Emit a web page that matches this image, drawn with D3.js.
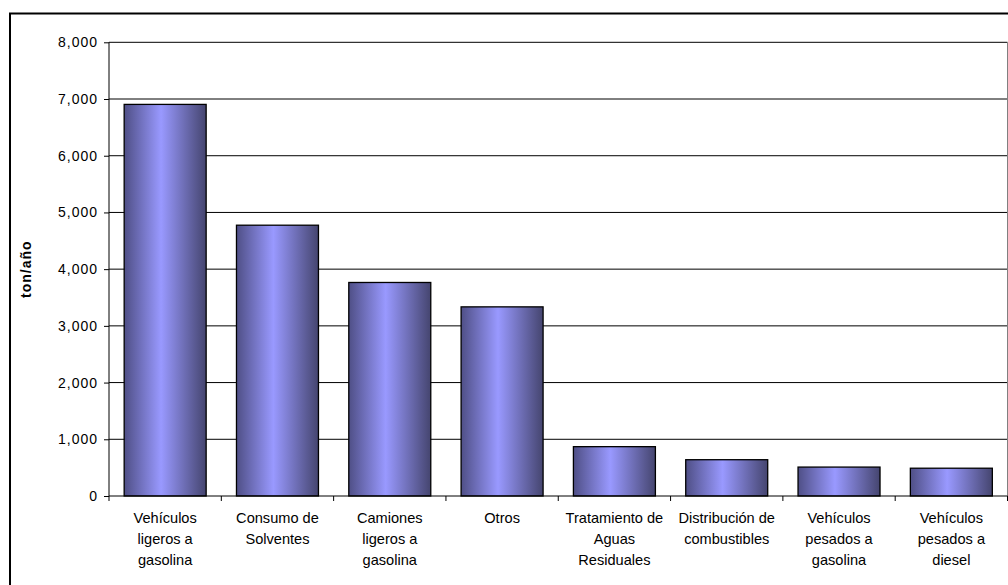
<!DOCTYPE html>
<html><head><meta charset="utf-8">
<script src="https://cdn.jsdelivr.net/npm/d3@7"></script>
<style>
body{margin:0;background:#fff;}
svg{display:block;font-family:"Liberation Sans",Arial,sans-serif;}
</style></head>
<body><svg id="c" width="1008" height="585"></svg>
<script>
const categories = [
  "Vehículos\nligeros a\ngasolina",
  "Consumo de\nSolventes",
  "Camiones\nligeros a\ngasolina",
  "Otros",
  "Tratamiento de\nAguas\nResiduales",
  "Distribución de\ncombustibles",
  "Vehículos\npesados a\ngasolina",
  "Vehículos\npesados a\ndiesel"
];
const values = [6905, 4775, 3765, 3335, 870, 640, 510, 490];
const yTicks = [0, 1000, 2000, 3000, 4000, 5000, 6000, 7000, 8000];
const yTitle = "ton/año";

const svg = d3.select("#c");
const L = 109, R = 1007.5, T = 42.3, B = 496;

// outer chart border
svg.append("rect").attr("x", 10).attr("y", 13.5).attr("width", 1100).attr("height", 700)
  .attr("fill", "none").attr("stroke", "#000").attr("stroke-width", 2);

const defs = svg.append("defs");
const g = defs.append("linearGradient").attr("id", "bg").attr("x1", "0%").attr("x2", "100%").attr("y1", "0%").attr("y2", "0%");
g.append("stop").attr("offset", "0%").attr("stop-color", "#4f4f86");
g.append("stop").attr("offset", "45%").attr("stop-color", "#9999ff");
g.append("stop").attr("offset", "100%").attr("stop-color", "#45456f");

const x = d3.scaleBand().domain(categories).range([L, R]).paddingInner(0.27).paddingOuter(0.135);
const y = d3.scaleLinear().domain([0, 8000]).range([B, T]);

// gridlines
svg.append("g").selectAll("line").data(yTicks.filter(d => d > 0)).join("line")
  .attr("x1", L).attr("x2", R).attr("y1", d => y(d)).attr("y2", d => y(d))
  .attr("stroke", "#000").attr("stroke-width", 1);
// plot right border
svg.append("line").attr("x1", R).attr("x2", R).attr("y1", T).attr("y2", B)
  .attr("stroke", "#808080");

// bars
svg.append("g").selectAll("rect").data(values).join("rect")
  .attr("x", (d, i) => x(categories[i]))
  .attr("width", x.bandwidth())
  .attr("y", d => y(d))
  .attr("height", d => B - y(d))
  .attr("fill", "url(#bg)").attr("stroke", "#000").attr("stroke-width", 1.3);

// y axis
const ya = svg.append("g").attr("transform", `translate(${L},0)`)
  .call(d3.axisLeft(y).tickValues(yTicks).tickFormat(d3.format(",")).tickSize(5).tickPadding(6));
ya.select(".domain").attr("stroke", "#000").attr("d", `M0,${T}V${B}`);
ya.selectAll("text").attr("font-size", 14).attr("fill", "#000").attr("letter-spacing", 1).attr("font-family", "Liberation Sans, Arial, sans-serif");

// x axis
const xa = svg.append("g").attr("transform", `translate(0,${B})`);
xa.append("line").attr("x1", L).attr("x2", R).attr("y1", 0).attr("y2", 0).attr("stroke", "#000");
svg.append("g").selectAll("line").data(d3.range(categories.length + 1)).join("line")
  .attr("x1", i => L + i * x.step())
  .attr("x2", i => L + i * x.step())
  .attr("y1", B).attr("y2", B + 5).attr("stroke", "#000");

const lab = svg.append("g").selectAll("text").data(categories).join("text")
  .attr("x", d => x(d) + x.bandwidth() / 2)
  .attr("y", B + 27)
  .attr("text-anchor", "middle").attr("font-size", 14.6).attr("fill", "#000");
lab.each(function(d) {
  const t = d3.select(this);
  d.split("\n").forEach((s, i) => {
    t.append("tspan").attr("x", x(d) + x.bandwidth() / 2).attr("dy", i === 0 ? 0 : 21).text(s);
  });
});

// y title
svg.append("text").attr("transform", `translate(31,${(T + B) / 2}) rotate(-90)`)
  .attr("text-anchor", "middle").attr("font-size", 14).attr("font-weight", "bold")
  .attr("letter-spacing", 1).text(yTitle);
</script></body></html>
